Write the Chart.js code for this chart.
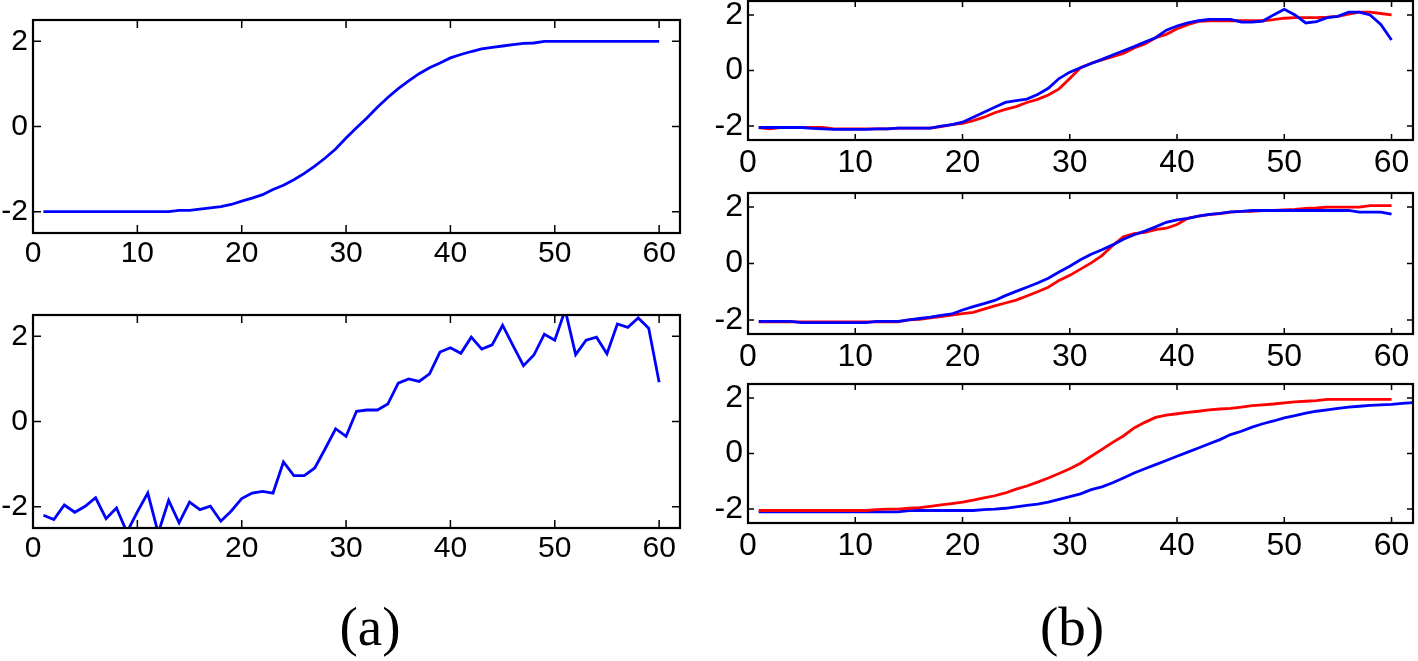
<!DOCTYPE html>
<html>
<head>
<meta charset="utf-8">
<script src="https://cdn.jsdelivr.net/npm/chart.js@4.4.0/dist/chart.umd.min.js"></script>
<style>
  html, body { margin: 0; padding: 0; background: #fff; }
  body { width: 1418px; height: 661px; position: relative; overflow: hidden; }
  .panel { position: absolute; }
  .cap { position: absolute; font-family: 'Liberation Serif', 'Times New Roman', serif; font-size: 55px; line-height: 1; color: #000; transform: translateX(-50%); }
</style>
</head>
<body>
<div class="panel" id="a1"><canvas></canvas></div>
<div class="panel" id="a2"><canvas></canvas></div>
<div class="panel" id="b1"><canvas></canvas></div>
<div class="panel" id="b2"><canvas></canvas></div>
<div class="panel" id="b3"><canvas></canvas></div>
<div class="cap" style="left:370px; top:599px;">(a)</div>
<div class="cap" style="left:1072px; top:599px;">(b)</div>
<script>
// tick labels
const xTicks = [0, 10, 20, 30, 40, 50, 60];
const yTicks = [-2, 0, 2];

// (a) top: smooth trajectory
const aSmooth = [-2, -2, -2, -2, -2, -2, -2, -2, -2, -2, -2, -2, -2, -1.97, -1.97, -1.94, -1.91, -1.88, -1.83, -1.75,
  -1.68, -1.6, -1.48, -1.38, -1.25, -1.1, -0.93, -0.74, -0.53, -0.27, -0.03, 0.2, 0.45, 0.68, 0.89, 1.07, 1.24, 1.38, 1.49, 1.61,
  1.69, 1.76, 1.82, 1.86, 1.89, 1.92, 1.95, 1.96, 2, 2, 2, 2, 2, 2, 2, 2, 2, 2, 2, 2];

// (a) bottom: noisy observation
const aNoisy = [-2.2, -2.3, -1.96, -2.13, -1.99, -1.79, -2.28, -2.03, -2.6, -2.12,
  -1.68, -2.62, -1.85, -2.38, -1.89, -2.07, -1.99, -2.34, -2.1, -1.81,
  -1.68, -1.64, -1.68, -0.95, -1.27, -1.27, -1.09, -0.64, -0.17, -0.35,
  0.24, 0.27, 0.27, 0.41, 0.9, 1.0, 0.94, 1.12, 1.63, 1.73,
  1.6, 1.98, 1.7, 1.8, 2.26, 1.78, 1.31, 1.56, 2.05, 1.91,
  2.62, 1.57, 1.91, 1.98, 1.59, 2.29, 2.21, 2.43, 2.19, 0.92];

// (b) top
const b1Blue = [-2.05, -2.05, -2.05, -2.05, -2.05, -2.08, -2.1, -2.12, -2.12, -2.12,
  -2.12, -2.1, -2.1, -2.07, -2.07, -2.07, -2.07, -2.0, -1.95, -1.86,
  -1.68, -1.5, -1.32, -1.15, -1.08, -1.03, -0.86, -0.64, -0.29, -0.06,
  0.1, 0.25, 0.4, 0.56, 0.71, 0.86, 1.02, 1.18, 1.45, 1.6,
  1.71, 1.79, 1.84, 1.84, 1.84, 1.74, 1.74, 1.78, 2.0, 2.2,
  2.0, 1.71, 1.76, 1.9, 1.95, 2.1, 2.1, 2.0, 1.66, 1.1];
const b1Red = [-2.05, -2.1, -2.05, -2.05, -2.05, -2.05, -2.05, -2.1, -2.1, -2.1,
  -2.1, -2.1, -2.1, -2.07, -2.07, -2.07, -2.07, -2.02, -1.95, -1.9,
  -1.8, -1.68, -1.52, -1.4, -1.3, -1.15, -1.04, -0.88, -0.66, -0.29,
  0.1, 0.26, 0.38, 0.5, 0.61, 0.81, 0.95, 1.18, 1.3, 1.5,
  1.65, 1.77, 1.79, 1.79, 1.79, 1.79, 1.79, 1.79, 1.83, 1.88,
  1.9, 1.9, 1.9, 1.92, 1.95, 2.03, 2.1, 2.1, 2.05, 2.0];

// (b) middle
const b2Blue = [-2.05, -2.05, -2.05, -2.05, -2.1, -2.1, -2.1, -2.1, -2.1, -2.1,
  -2.1, -2.05, -2.05, -2.05, -2.0, -1.95, -1.9, -1.84, -1.79, -1.65,
  -1.53, -1.42, -1.31, -1.14, -0.99, -0.84, -0.69, -0.52, -0.3, -0.1,
  0.13, 0.33, 0.49, 0.66, 0.86, 1.02, 1.15, 1.3, 1.46, 1.55,
  1.6, 1.68, 1.74, 1.78, 1.83, 1.85, 1.88, 1.88, 1.88, 1.88,
  1.88, 1.88, 1.88, 1.88, 1.88, 1.88, 1.82, 1.82, 1.82, 1.75];
const b2Red = [-2.07, -2.07, -2.07, -2.07, -2.07, -2.07, -2.07, -2.07, -2.07, -2.07,
  -2.07, -2.07, -2.07, -2.07, -2.0, -1.98, -1.93, -1.88, -1.83, -1.78,
  -1.73, -1.62, -1.5, -1.4, -1.3, -1.15, -1.0, -0.84, -0.6, -0.42,
  -0.2, 0.02, 0.28, 0.64, 0.95, 1.06, 1.1, 1.2, 1.25, 1.38,
  1.6, 1.68, 1.73, 1.77, 1.82, 1.85, 1.85, 1.88, 1.88, 1.9,
  1.92, 1.95, 1.97, 2.0, 2.0, 2.0, 2.0, 2.05, 2.05, 2.05];

// (b) bottom
const b3Red = [-2.05, -2.05, -2.05, -2.05, -2.05, -2.05, -2.05, -2.05, -2.05, -2.05,
  -2.05, -2.02, -2.0, -2.0, -1.97, -1.95, -1.9, -1.85, -1.8, -1.75,
  -1.68, -1.6, -1.52, -1.42, -1.28, -1.17, -1.03, -0.88, -0.72, -0.55,
  -0.35, -0.1, 0.15, 0.4, 0.63, 0.92, 1.12, 1.3, 1.38, 1.43,
  1.48, 1.52, 1.57, 1.6, 1.62, 1.67, 1.72, 1.75, 1.78, 1.82,
  1.86, 1.88, 1.9, 1.95, 1.95, 1.95, 1.95, 1.95, 1.95, 1.95];
const b3Blue = [-2.1, -2.1, -2.1, -2.1, -2.1, -2.1, -2.1, -2.1, -2.1, -2.1,
  -2.1, -2.1, -2.1, -2.1, -2.05, -2.05, -2.05, -2.05, -2.05, -2.05,
  -2.05, -2.02, -2.0, -1.97, -1.92, -1.87, -1.82, -1.75, -1.65, -1.55,
  -1.45, -1.3, -1.2, -1.05, -0.88, -0.7, -0.55, -0.4, -0.25, -0.1,
  0.05, 0.2, 0.35, 0.5, 0.68, 0.8, 0.95, 1.07, 1.17, 1.28,
  1.36, 1.45, 1.52, 1.57, 1.62, 1.67, 1.7, 1.73, 1.75, 1.77,
  1.8, 1.83];

const BLUE = '#0000ff';
const RED = '#ff0000';
const fontFamily = "'Liberation Sans', Arial, sans-serif";

// axes box with inward ticks on all four sides, like matlab "box on"
const frame = {
  id: 'frame',
  afterDatasetsDraw(chart, args, opts) {
    const { ctx, chartArea: a, scales: { x, y } } = chart;
    const len = opts.len || 8;
    ctx.save();
    ctx.strokeStyle = '#000';
    ctx.lineWidth = 1.5;
    ctx.beginPath();
    x.ticks.forEach(t => {
      const px = x.getPixelForValue(t.value);
      ctx.moveTo(px, a.bottom); ctx.lineTo(px, a.bottom - len);
      ctx.moveTo(px, a.top); ctx.lineTo(px, a.top + len);
    });
    y.ticks.forEach(t => {
      const py = y.getPixelForValue(t.value);
      ctx.moveTo(a.left, py); ctx.lineTo(a.left + len, py);
      ctx.moveTo(a.right, py); ctx.lineTo(a.right - len, py);
    });
    ctx.stroke();
    ctx.lineWidth = 2.2;
    ctx.strokeRect(a.left, a.top, a.right - a.left, a.bottom - a.top);
    ctx.restore();
  }
};

const padL = 60, padR = 14, padT = 30, padB = 50;

function panel(id, box, series, opt) {
  const wrap = document.getElementById(id);
  wrap.style.left = (box.l - padL) + 'px';
  wrap.style.top = (box.t - padT) + 'px';
  wrap.style.width = (box.r - box.l + padL + padR) + 'px';
  wrap.style.height = (box.b - box.t + padT + padB) + 'px';
  const font = { family: fontFamily, size: opt.size };

  new Chart(wrap.querySelector('canvas'), {
    type: 'line',
    data: {
      datasets: series.map(s => ({
        data: s.values.map((v, i) => ({ x: i + 1, y: v })),
        borderColor: s.color,
        borderWidth: 2.8,
        pointRadius: 0,
        tension: 0,
        fill: false
      }))
    },
    options: {
      responsive: true,
      maintainAspectRatio: false,
      animation: false,
      layout: { padding: { left: 0, top: padT, right: padR, bottom: 0 } },
      plugins: {
        legend: { display: false },
        tooltip: { enabled: false },
        frame: { len: opt.tick }
      },
      scales: {
        x: {
          type: 'linear',
          min: 0,
          max: 62,
          grid: { display: false, drawTicks: false },
          border: { display: false },
          afterBuildTicks: s => { s.ticks = xTicks.map(v => ({ value: v })); },
          afterFit: s => { s.height = padB; },
          ticks: { font, color: '#000', padding: opt.xpad, maxRotation: 0, autoSkip: false }
        },
        y: {
          min: -2.5,
          max: 2.5,
          grid: { display: false, drawTicks: false },
          border: { display: false },
          afterBuildTicks: s => { s.ticks = yTicks.map(v => ({ value: v })); },
          afterFit: s => { s.width = padL; },
          ticks: { font, color: '#000', padding: 5 }
        }
      }
    },
    plugins: [frame]
  });
}

const left = { size: 30, xpad: 3, tick: 8 };
const right = { size: 32, xpad: 4, tick: 6 };
panel('a1', { l: 33, r: 680, t: 20, b: 233 }, [{ values: aSmooth, color: BLUE }], left);
panel('a2', { l: 33, r: 680, t: 315, b: 528 }, [{ values: aNoisy, color: BLUE }], left);
panel('b1', { l: 748, r: 1413, t: 1, b: 140 }, [{ values: b1Blue, color: BLUE }, { values: b1Red, color: RED }], right);
panel('b2', { l: 748, r: 1413, t: 193, b: 334 }, [{ values: b2Blue, color: BLUE }, { values: b2Red, color: RED }], right);
panel('b3', { l: 748, r: 1413, t: 384, b: 523 }, [{ values: b3Red, color: RED }, { values: b3Blue, color: BLUE }], right);
</script>
</body>
</html>
